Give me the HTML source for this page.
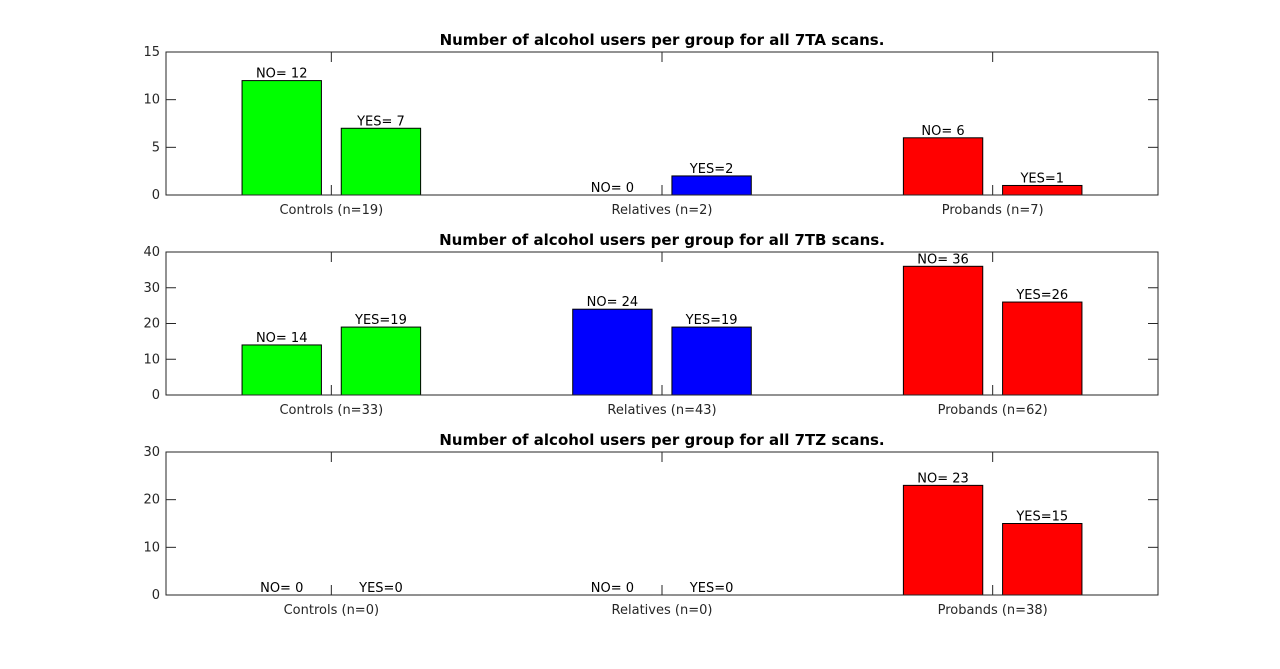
<!DOCTYPE html>
<html><head><meta charset="utf-8"><style>
html,body{margin:0;padding:0;background:#fff;}
svg{display:block;font-family:"DejaVu Sans","Liberation Sans",sans-serif;}
</style></head><body>
<svg id="fig" width="1280" height="669" viewBox="0 0 1280 669"></svg>
<script>
const panelTitles = ["Number of alcohol users per group for all 7TA scans.","Number of alcohol users per group for all 7TB scans.","Number of alcohol users per group for all 7TZ scans."];
const categoryLabels = [["Controls (n=19)","Relatives (n=2)","Probands (n=7)"],["Controls (n=33)","Relatives (n=43)","Probands (n=62)"],["Controls (n=0)","Relatives (n=0)","Probands (n=38)"]];
const noValues = [[12,0,6],[14,24,36],[0,0,23]];
const yesValues = [[7,2,1],[19,19,26],[0,0,15]];
const noLabels = [["NO= 12","NO= 0","NO= 6"],["NO= 14","NO= 24","NO= 36"],["NO= 0","NO= 0","NO= 23"]];
const yesLabels = [["YES= 7","YES=2","YES=1"],["YES=19","YES=19","YES=26"],["YES=0","YES=0","YES=15"]];
const yMax = [15,40,30];
const yTicks = [[0,5,10,15],[0,10,20,30,40],[0,10,20,30]];
const groupColors = ["#00ff00","#0000ff","#ff0000"];

const NS="http://www.w3.org/2000/svg";
const svg=document.getElementById('fig');
function mk(tag,attrs,parent){const e=document.createElementNS(NS,tag);for(const k in attrs)e.setAttribute(k,attrs[k]);(parent||svg).appendChild(e);return e;}
const L=166,R=1158,tops=[52,252,452],H=143;
const xs=v=>L+(v-0.5)*(R-L)/3;
for(let p=0;p<3;p++){
  const T=tops[p],B=T+H;
  const ys=v=>B-v/yMax[p]*H;
  const g=mk('g',{});
  
  
  const t=mk('text',{x:(L+R)/2,y:T-7,'text-anchor':'middle','font-size':15,'font-weight':'bold',fill:'#000'},g);
  t.textContent=panelTitles[p];
  
  
  for(let c=0;c<3;c++){
    const vals=[noValues[p][c],yesValues[p][c]],labs=[noLabels[p][c],yesLabels[p][c]];
    for(let s=0;s<2;s++){
      const cx=xs(c+1+(s?0.15:-0.15)), w=0.24*(R-L)/3;
      const y=ys(vals[s]);
      const r=mk('rect',{x:cx-w/2,y:y,width:w,height:Math.max(B-y,0.01),fill:groupColors[c],stroke:'#000','stroke-width':1},g);
      
      
      const lt=mk('text',{x:cx,y:y-3,'text-anchor':'middle','font-size':13,fill:'#000'},g);
      lt.textContent=labs[s];
      
      
    }
    const xl=mk('text',{x:xs(c+1),y:B+19,'text-anchor':'middle','font-size':13,fill:'#262626'},g);
    xl.textContent=categoryLabels[p][c];
    
    
    mk('line',{x1:xs(c+1),x2:xs(c+1),y1:B,y2:B-10,stroke:'#262626'},g);
    mk('line',{x1:xs(c+1),x2:xs(c+1),y1:T,y2:T+10,stroke:'#262626'},g);
  }
  yTicks[p].forEach(v=>{
    const y=ys(v);
    mk('line',{x1:L,x2:L+10,y1:y,y2:y,stroke:'#262626'},g);
    mk('line',{x1:R,x2:R-10,y1:y,y2:y,stroke:'#262626'},g);
    const yl=mk('text',{x:L-6,y:y+4,'text-anchor':'end','font-size':13,fill:'#262626'},g);
    yl.textContent=v;
    
    
  });
  const box=mk('rect',{x:L,y:T,width:R-L,height:H,fill:'none',stroke:'#262626','stroke-width':1},g);
  
  
}
</script>
</body></html>
